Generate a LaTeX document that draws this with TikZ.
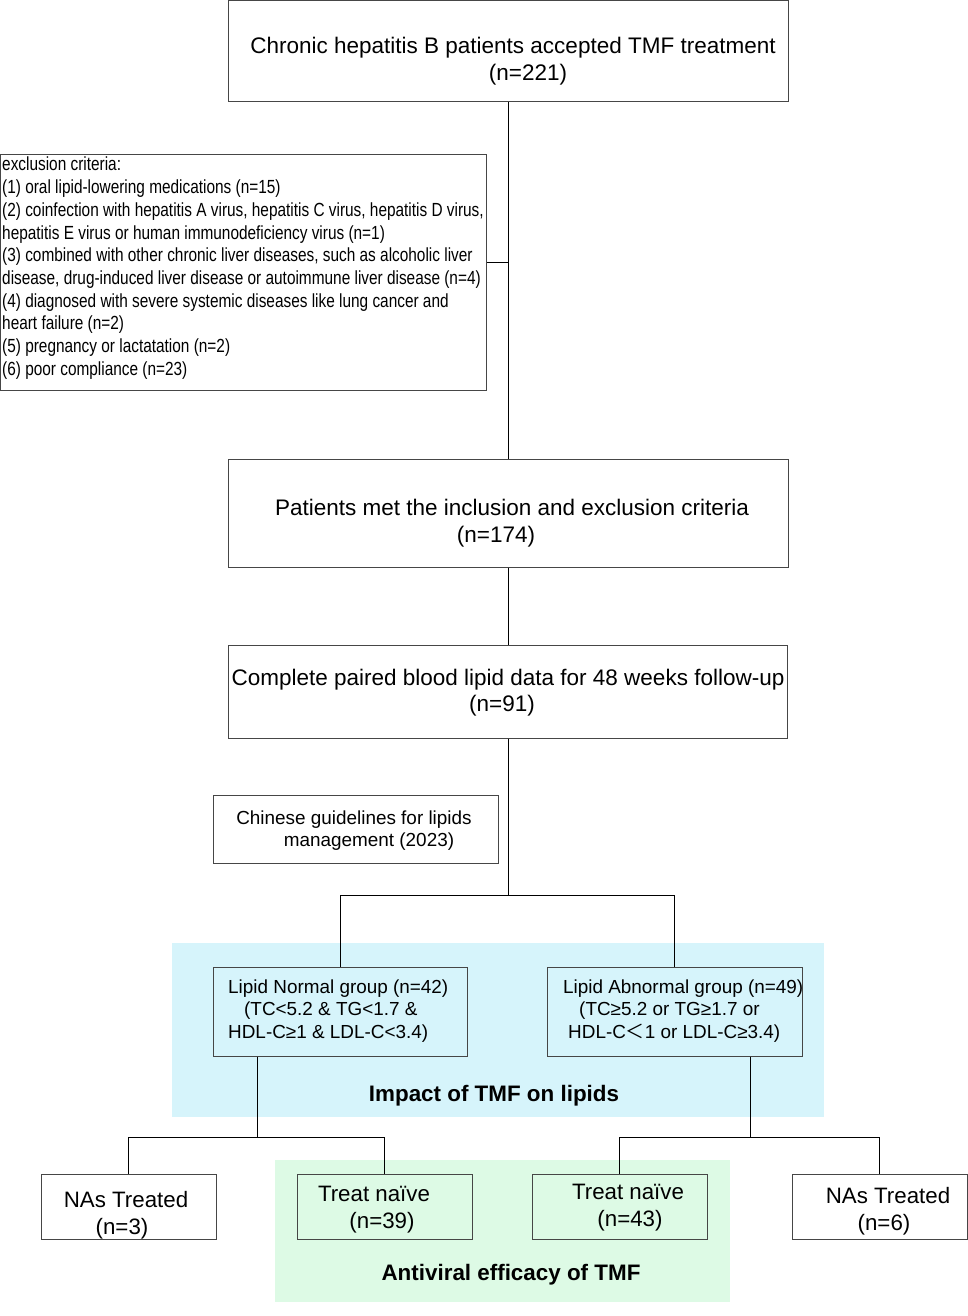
\documentclass[tikz,border=0pt]{standalone}
\usepackage{fontspec}
\setmainfont{Liberation Sans}
\newfontfamily\narrowfont[FakeStretch=0.81]{Liberation Sans}
\newfontfamily\cjk{Noto Sans CJK SC}
\definecolor{bluebg}{RGB}{214,244,251}
\definecolor{greenbg}{RGB}{221,250,229}
\definecolor{boxline}{RGB}{70,70,70}
\begin{document}
\begin{tikzpicture}[x=1pt,y=-1pt,
  box/.style={draw=boxline,line width=1pt,rectangle,inner sep=0pt},
  conn/.style={draw=black,line width=0.9pt},
  big/.style={inner sep=0pt,anchor=base,font=\fontsize{22.5}{27}\selectfont},
  mid/.style={inner sep=0pt,anchor=base,font=\fontsize{18.9}{22.5}\selectfont},
  midl/.style={inner sep=0pt,anchor=base west,font=\fontsize{18.9}{22.5}\selectfont},
  bot/.style={inner sep=0pt,anchor=base,font=\fontsize{22.3}{27}\selectfont},
  bold/.style={inner sep=0pt,anchor=base,font=\bfseries\fontsize{22.4}{27}\selectfont}]
\useasboundingbox (0,0) rectangle (968,1316);
\fill[white] (0,0) rectangle (968,1316);
% background regions
\fill[bluebg] (172,943) rectangle (824,1117);
\fill[greenbg] (275,1160) rectangle (730,1302);
% boxes
\node[box,minimum width=560,minimum height=101] (top) at (508,51.5) {};
\node[box,minimum width=486,minimum height=235] (excl) at (243.5,272.5) {};
\node[box,minimum width=560,minimum height=108] (incl) at (508,513) {};
\node[box,minimum width=559,minimum height=93] (paired) at (507.5,691.5) {};
\node[box,minimum width=285,minimum height=68] (guide) at (355.5,829) {};
\node[box,minimum width=254,minimum height=89] (normal) at (340,1011.5) {};
\node[box,minimum width=255,minimum height=89] (abnormal) at (674.5,1011.5) {};
\node[box,minimum width=175,minimum height=65] (nasl) at (128.5,1206.5) {};
\node[box,minimum width=175,minimum height=65] (treatl) at (384.5,1206.5) {};
\node[box,minimum width=175,minimum height=65] (treatr) at (619.5,1206.5) {};
\node[box,minimum width=175,minimum height=65] (nasr) at (879.5,1206.5) {};
% texts
\node[big] (t1a) at (513,54) {Chronic hepatitis B patients accepted TMF treatment};
\node[big] (t1b) at (528,81) {(n=221)};
\node[inner sep=0pt,anchor=base west] (excltxt) at (2,171) {\narrowfont\fontsize{19}{22.7}\selectfont
\begin{tabular}[t]{@{}l@{}}
exclusion criteria:\\
(1) oral lipid-lowering medications (n=15)\\
(2) coinfection with hepatitis A virus, hepatitis C virus, hepatitis D virus,\\
hepatitis E virus or human immunodeficiency virus (n=1)\\
(3) combined with other chronic liver diseases, such as alcoholic liver\\
disease, drug-induced liver disease or autoimmune liver disease (n=4)\\
(4) diagnosed with severe systemic diseases like lung cancer and\\
heart failure (n=2)\\
(5) pregnancy or lactatation (n=2)\\
(6) poor compliance (n=23)
\end{tabular}};
\node[big] (t2a) at (512,515) {Patients met the inclusion and exclusion criteria};
\node[big] (t2b) at (496,542) {(n=174)};
\node[big] (t3a) at (508,685) {Complete paired blood lipid data for 48 weeks follow-up};
\node[big] (t3b) at (502,711) {(n=91)};
\node[mid] (tga) at (354,824) {Chinese guidelines for lipids};
\node[mid] (tgb) at (369,846) {management (2023)};
\node[midl] (tna) at (228,993) {Lipid Normal group (n=42)};
\node[midl] (tnb) at (244,1015) {(TC<5.2 \& TG<1.7 \&};
\node[midl] (tnc) at (228,1038) {HDL-C≥1 \& LDL-C<3.4)};
\node[midl] (taa) at (563,993) {Lipid Abnormal group (n=49)};
\node[midl] (tab) at (579,1015) {(TC≥5.2 or TG≥1.7 or};
\node[midl] (tac) at (568,1038) {HDL-C{\cjk ＜}1 or LDL-C≥3.4)};
\node[bold] (impact) at (494,1101) {Impact of TMF on lipids};
\node[bot] (nla) at (126,1207) {NAs Treated};
\node[bot] (nlb) at (122,1234) {(n=3)};
\node[bot] (tla) at (374,1201) {Treat naïve};
\node[bot] (tlb) at (382,1228) {(n=39)};
\node[bot] (tra) at (628,1199) {Treat naïve};
\node[bot] (trb) at (630,1226) {(n=43)};
\node[bot] (nra) at (888,1203) {NAs Treated};
\node[bot] (nrb) at (884,1230) {(n=6)};
\node[bold] (antiviral) at (511,1280) {Antiviral efficacy of TMF};
% connectors
\coordinate (j1) at (508,262);
\coordinate (sp) at (508,895);
\coordinate (ls) at (257,1137);
\coordinate (rs) at (750,1137);
\draw[conn] (top.south) -- (incl.north);
\draw[conn] (j1) -- (j1 -| excl.east);
\draw[conn] (incl.south) -- (incl.south |- paired.north);
\draw[conn] (paired.south -| sp) -- (sp);
\draw[conn] (normal.north) |- (sp) -| (abnormal.north);
\draw[conn] (ls |- normal.south) -- (ls);
\draw[conn] (nasl.north) |- (ls) -| (treatl.north);
\draw[conn] (rs |- abnormal.south) -- (rs);
\draw[conn] (treatr.north) |- (rs) -| (nasr.north);
\end{tikzpicture}
\end{document}
